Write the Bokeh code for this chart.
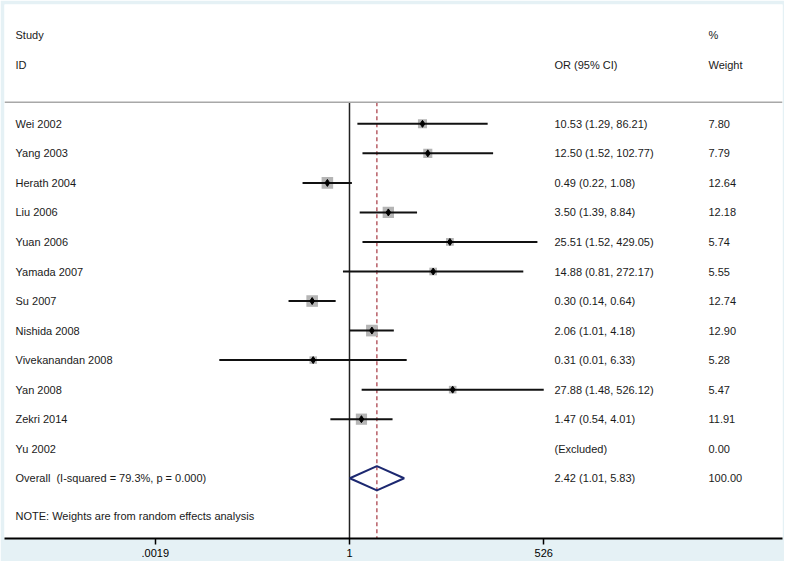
import math
from bokeh.plotting import figure
from bokeh.models import Range1d, FixedTicker, Span
from bokeh.core.properties import value
from bokeh.embed import file_html
from bokeh.resources import INLINE

# ---------------- data ----------------
studies = ["Wei 2002", "Yang 2003", "Herath 2004", "Liu 2006", "Yuan 2006",
           "Yamada 2007", "Su 2007", "Nishida 2008", "Vivekanandan 2008",
           "Yan 2008", "Zekri 2014", "Yu 2002"]
or_vals = [10.53, 12.50, 0.49, 3.50, 25.51, 14.88, 0.30, 2.06, 0.31, 27.88, 1.47, None]
ci_low = [1.29, 1.52, 0.22, 1.39, 1.52, 0.81, 0.14, 1.01, 0.015, 1.48, 0.54, None]
ci_high = [86.21, 102.77, 1.08, 8.84, 429.05, 272.17, 0.64, 4.18, 6.33, 526.12, 4.01, None]
weights = [7.80, 7.79, 12.64, 12.18, 5.74, 5.55, 12.74, 12.90, 5.28, 5.47, 11.91, 0.00]
ci_text = ["10.53 (1.29, 86.21)", "12.50 (1.52, 102.77)", "0.49 (0.22, 1.08)",
           "3.50 (1.39, 8.84)", "25.51 (1.52, 429.05)", "14.88 (0.81, 272.17)",
           "0.30 (0.14, 0.64)", "2.06 (1.01, 4.18)", "0.31 (0.01, 6.33)",
           "27.88 (1.48, 526.12)", "1.47 (0.54, 4.01)", "(Excluded)"]
weight_text = ["7.80", "7.79", "12.64", "12.18", "5.74", "5.55", "12.74",
               "12.90", "5.28", "5.47", "11.91", "0.00"]

overall_label = "Overall\u00a0 (I-squared = 79.3%, p = 0.000)"
overall_or, overall_low, overall_high = 2.42, 1.01, 5.83
overall_ci_text = "2.42 (1.01, 5.83)"
overall_weight_text = "100.00"
note_text = "NOTE: Weights are from random effects analysis"

tick_values = [0.0019, 1, 526]
tick_labels = [".0019", "1", "526"]

# ---------------- layout constants ----------------
FRAME_L, FRAME_R = 12, 790          # page px of plot frame
LOG_LO, LOG_HI = -4.833, 6.066      # decades shown
Y_TOP, Y_BOTTOM = -4.04, 14.04      # row units
SEP_Y = -0.73
FONT = value("Liberation Sans")
FS = "11px"
TXT = "#1a1a1a"


def px2x(px):
    return 10 ** (LOG_LO + (px - FRAME_L) / (FRAME_R - FRAME_L) * (LOG_HI - LOG_LO))


p = figure(width=784, height=561, x_axis_type="log",
           x_range=Range1d(10 ** LOG_LO, 10 ** LOG_HI),
           y_range=Range1d(Y_BOTTOM, Y_TOP),
           output_backend="svg", toolbar_location=None,
           min_border_left=4, min_border_right=2, min_border_top=4,
           min_border_bottom=23)
p.background_fill_color = "white"
p.border_fill_color = "#e5f1f5"
p.outline_line_color = None
p.grid.visible = False
p.yaxis.visible = False

ax = p.xaxis[0]
ax.ticker = FixedTicker(ticks=tick_values, minor_ticks=[])
ax.major_label_overrides = {v: l for v, l in zip(tick_values, tick_labels)}
ax.axis_line_width = 2
ax.axis_line_color = "black"
ax.major_tick_line_color = "black"
ax.major_tick_line_width = 1.5
ax.major_tick_out = 6
ax.major_tick_in = 0
ax.minor_tick_line_color = None
ax.major_label_standoff = 4
ax.major_label_text_font = "Liberation Sans"
ax.major_label_text_font_size = FS
ax.major_label_text_color = "black"

# separator under header
p.add_layout(Span(location=SEP_Y, dimension="width", line_color="#a8a8a8", line_width=1.5))

# null line and overall dashed line
p.segment(x0=1, x1=1, y0=SEP_Y, y1=Y_BOTTOM, line_color="#222222", line_width=1.5)
p.segment(x0=overall_or, x1=overall_or, y0=SEP_Y, y1=Y_BOTTOM,
          line_color="#a5353f", line_width=1.2, line_dash="4 3")

# study rows
rows = list(range(len(studies)))
idx = [i for i in rows if or_vals[i] is not None]
ys = [rows[i] for i in idx]
p.scatter(x=[or_vals[i] for i in idx], y=ys, marker="square",
          size=[3.25 * math.sqrt(weights[i]) for i in idx],
          fill_color="#b5b5b5", line_color=None)
p.segment(x0=[ci_low[i] for i in idx], x1=[ci_high[i] for i in idx], y0=ys, y1=ys,
          line_color="#111111", line_width=2)
p.scatter(x=[or_vals[i] for i in idx], y=ys, marker="diamond", size=7,
          fill_color="black", line_color="black")

# overall diamond
r_over = len(studies)
h = 0.41
p.patch(x=[overall_low, overall_or, overall_high, overall_or, overall_low],
        y=[r_over, r_over - h, r_over, r_over + h, r_over],
        fill_color=None, line_color="#1c2870", line_width=2)

# texts
common = dict(text_font=FONT, text_font_size=FS, text_color=TXT, text_baseline="middle",
              text_align="left")
p.text(x=px2x(23), y=[-3, -2], text=["Study", "ID"], **common)
p.text(x=px2x(562), y=[-2], text=["OR (95% CI)"], **common)
p.text(x=px2x(716), y=[-3, -2], text=["%", "Weight"], **common)

p.text(x=px2x(23), y=rows + [r_over], text=studies + [overall_label], **common)
p.text(x=px2x(562), y=rows + [r_over], text=ci_text + [overall_ci_text], **common)
p.text(x=px2x(716), y=rows + [r_over], text=weight_text + [overall_weight_text], **common)
p.text(x=px2x(23), y=[r_over + 1.28], text=[note_text], **common)

open("out.html", "w").write(file_html(p, INLINE))
